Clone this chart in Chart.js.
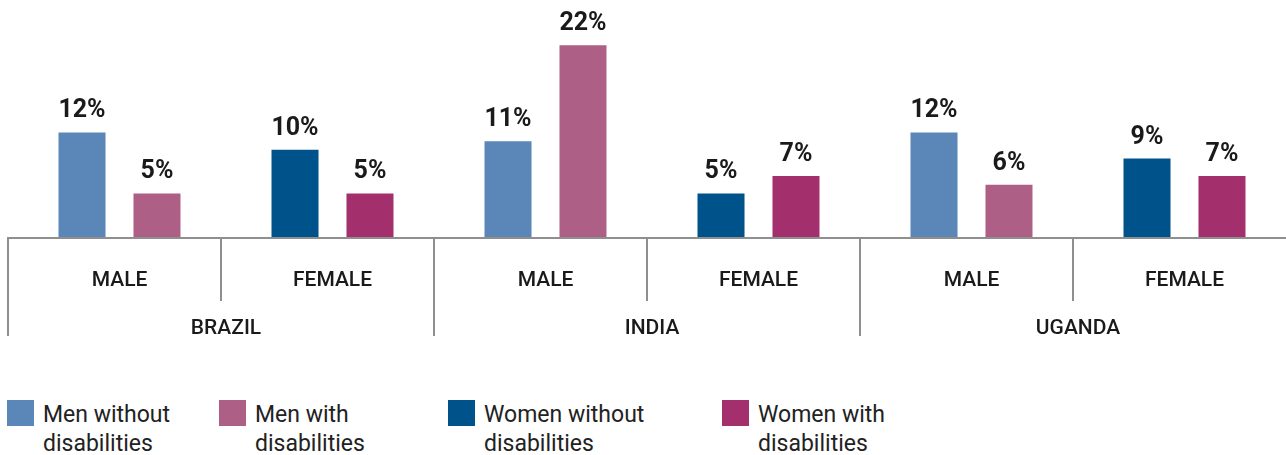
<!DOCTYPE html>
<html>
<head>
<meta charset="utf-8">
<script src="https://cdn.jsdelivr.net/npm/chart.js@4.4.1/dist/chart.umd.min.js"></script>
<style>
  body { margin: 0; background: #fff; }
  #wrap { position: relative; width: 1286px; height: 455px; overflow: hidden; }
  #grafico { position: absolute; left: 0; top: 0; }
  .leyenda { position: absolute; top: 400px; }
  .leyenda .caja { position: absolute; left: 0; top: 0; width: 27px; height: 26px; }
  .leyenda .texto { position: absolute; left: 36px; top: 0; white-space: nowrap;
    font-family: Roboto, sans-serif; font-size: 23px; line-height: 29px; color: #222; }
</style>
</head>
<body>
<div id="wrap">
  <canvas id="grafico" width="1291" height="345"></canvas>
  <div id="leyenda"></div>
</div>
<script>
const subgrupos = ['MALE', 'FEMALE', 'MALE', 'FEMALE', 'MALE', 'FEMALE'];
const paises = ['BRAZIL', 'INDIA', 'UGANDA'];

const hombresSin = [12, null, 11, null, 12, null];
const hombresCon = [5, null, 22, null, 6, null];
const mujeresSin = [null, 10, null, 5, null, 9];
const mujeresCon = [null, 5, null, 7, null, 7];

const nombresSeries = [
  ['Men without', 'disabilities'],
  ['Men with', 'disabilities'],
  ['Women without', 'disabilities'],
  ['Women with', 'disabilities']
];
const colores = ['#5b87b8', '#ae5f86', '#00528b', '#a3306d'];
const posLeyenda = [7, 219, 448, 722];

// en el original los separadores quedan un poco a la izquierda de las barras
const desplazamiento = 5;

// etiquetas de valor encima de cada barra
const etiquetasValor = {
  id: 'etiquetasValor',
  afterDatasetsDraw(chart) {
    const ctx = chart.ctx;
    ctx.save();
    ctx.font = 'bold 25px Roboto, sans-serif';
    ctx.fillStyle = '#1a1a1a';
    ctx.textAlign = 'center';
    ctx.textBaseline = 'alphabetic';
    chart.data.datasets.forEach((ds, d) => {
      const meta = chart.getDatasetMeta(d);
      meta.data.forEach((bar, i) => {
        const v = ds.data[i];
        if (v === null || v === undefined) return;
        ctx.fillText(v + '%', bar.x, bar.y - 15);
      });
    });
    ctx.restore();
  }
};

// eje inferior con dos niveles de categorias
const ejeDoble = {
  id: 'ejeDoble',
  afterDraw(chart) {
    const ctx = chart.ctx;
    const area = chart.chartArea;
    const x = chart.scales.x;
    const ancho = (area.right - area.left) / subgrupos.length;
    const base = area.bottom + 1;
    ctx.save();
    ctx.strokeStyle = '#8f8f8f';
    ctx.lineWidth = 2;
    ctx.beginPath();
    ctx.moveTo(area.left - desplazamiento - 1, base);
    ctx.lineTo(area.right, base);
    for (let i = 0; i < subgrupos.length; i++) {
      const xi = x.getPixelForValue(i) - ancho / 2 - desplazamiento;
      ctx.moveTo(xi, base);
      ctx.lineTo(xi, base + (i % 2 === 0 ? 98 : 63));
    }
    ctx.stroke();

    ctx.fillStyle = '#1a1a1a';
    ctx.textAlign = 'center';
    ctx.textBaseline = 'middle';
    ctx.font = '500 21px Roboto, sans-serif';
    subgrupos.forEach((s, i) => {
      ctx.fillText(s, x.getPixelForValue(i), base + 43);
    });
    paises.forEach((p, k) => {
      const xc = (x.getPixelForValue(2 * k) + x.getPixelForValue(2 * k + 1)) / 2;
      ctx.fillText(p, xc, base + 91);
    });
    ctx.restore();
  }
};

const series = [hombresSin, hombresCon, mujeresSin, mujeresCon];
const datasets = series.map((datos, i) => ({
  label: nombresSeries[i].join(' '),
  data: datos,
  backgroundColor: colores[i],
  borderWidth: 0,
  skipNull: true,
  categoryPercentage: 0.704,
  barPercentage: 0.627
}));

const ctx = document.getElementById('grafico').getContext('2d');
const chart = new Chart(ctx, {
  type: 'bar',
  data: { labels: subgrupos, datasets: datasets },
  options: {
    responsive: false,
    animation: false,
    devicePixelRatio: 1,
    layout: { padding: { left: 8 + desplazamiento, right: 0, top: 0, bottom: 108 } },
    plugins: {
      legend: { display: false },
      tooltip: { enabled: false }
    },
    scales: {
      x: { display: false },
      y: { display: false, min: 0, max: 27.2 }
    }
  },
  plugins: [etiquetasValor, ejeDoble]
});

// leyenda en html
const leyenda = document.getElementById('leyenda');
nombresSeries.forEach((n, i) => {
  const item = document.createElement('div');
  item.className = 'leyenda';
  item.style.left = posLeyenda[i] + 'px';
  item.innerHTML = '<div class="caja" style="background:' + colores[i] + '"></div>' +
    '<div class="texto">' + n[0] + '<br>' + n[1] + '</div>';
  leyenda.appendChild(item);
});
</script>
</body>
</html>
